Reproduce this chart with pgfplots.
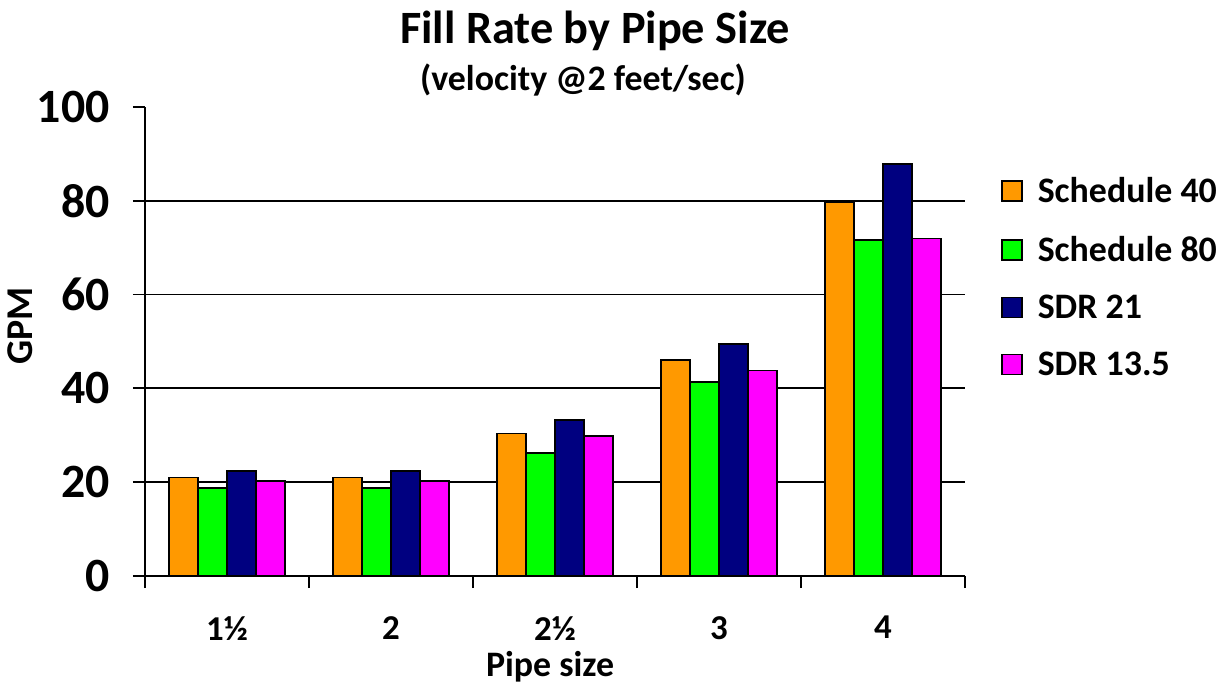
\documentclass[border=0pt]{standalone}
\usepackage{fontspec}
\setmainfont{Carlito}
\usepackage{pgfplots}
\pgfplotsset{compat=1.18}
\definecolor{cOrange}{HTML}{FF9900}
\definecolor{cGreen}{HTML}{00FF00}
\definecolor{cNavy}{HTML}{000080}
\definecolor{cMagenta}{HTML}{FF00FF}
\begin{document}
\begin{tikzpicture}
\begin{axis}[
  name=ax,
  scale only axis,
  width=820bp, height=469bp,
  xmin=0.5, xmax=5.5, ymin=0, ymax=100,
  axis lines=left,
  axis line style={line width=1.8bp, -},
  tick align=outside,
  major tick length=12bp,
  tick style={line width=1.8bp, black},
  ybar=0pt, bar width=29bp,
  xtick={0.5,1.5,...,5.5},
  xticklabels={},
  extra x ticks={1,2,3,4,5},
  extra x tick labels={1½,2,2½,3,4},
  extra x tick style={major tick length=0pt, tick style={draw=none},
    x tick label style={yshift=-39bp, inner ysep=1bp}},
  x tick label style={font=\fontsize{35}{35}\selectfont\bfseries},
  ytick={0,20,...,80},
  ymajorgrids,
  extra y ticks={100},
  extra y tick style={grid=none},
  major grid style={line width=1.8bp, black},
  y tick label style={font=\fontsize{48}{48}\selectfont\bfseries, xshift=-20bp},
  /pgf/number format/assume math mode=true,
  xlabel={Pipe size},
  xlabel style={at={(axis description cs:0.494,-0.193)}, anchor=center, inner sep=1bp, font=\fontsize{36}{36}\selectfont\bfseries},
  ylabel={GPM},
  ylabel style={at={(axis description cs:-0.1524,0.533)}, anchor=center, font=\fontsize{38}{38}\selectfont\bfseries},
  legend style={draw=none, fill=none, at={(1.04,0.858)}, anchor=north west,
    font=\fontsize{36}{42}\selectfont\bfseries, row sep=28bp},
  legend cell align=left,
  legend image code/.code={\draw[#1,draw=black,line width=1.6bp] (0bp,-10bp) rectangle (20bp,10bp); \path[draw=none,fill=none] (0bp,0bp) -- (34bp,0bp);},
]
\addplot[fill=cOrange, draw=black, line width=1.6bp] coordinates {(1,21.0) (2,21.0) (3,30.4) (4,46.0) (5,79.6)};
\addplot[fill=cGreen, draw=black, line width=1.6bp] coordinates {(1,18.8) (2,18.8) (3,26.2) (4,41.4) (5,71.6)};
\addplot[fill=cNavy, draw=black, line width=1.6bp] coordinates {(1,22.4) (2,22.4) (3,33.3) (4,49.5) (5,87.8)};
\addplot[fill=cMagenta, draw=black, line width=1.6bp] coordinates {(1,20.2) (2,20.2) (3,29.9) (4,43.8) (5,72.0)};
\legend{Schedule 40, Schedule 80, SDR 21, SDR 13.5}
\end{axis}
\node[font=\fontsize{46.5}{46.5}\selectfont\bfseries] at ([shift={(450bp,545bp)}]ax.south west) {Fill Rate by Pipe Size};
\node[font=\fontsize{36}{36}\selectfont\bfseries] at ([shift={(438bp,496bp)}]ax.south west) {(velocity @2 feet/sec)};
\pgfresetboundingbox
\path ([shift={(-145bp,-109bp)}]ax.south west) rectangle ([shift={(1084bp,576bp)}]ax.south west);
\end{tikzpicture}
\end{document}
